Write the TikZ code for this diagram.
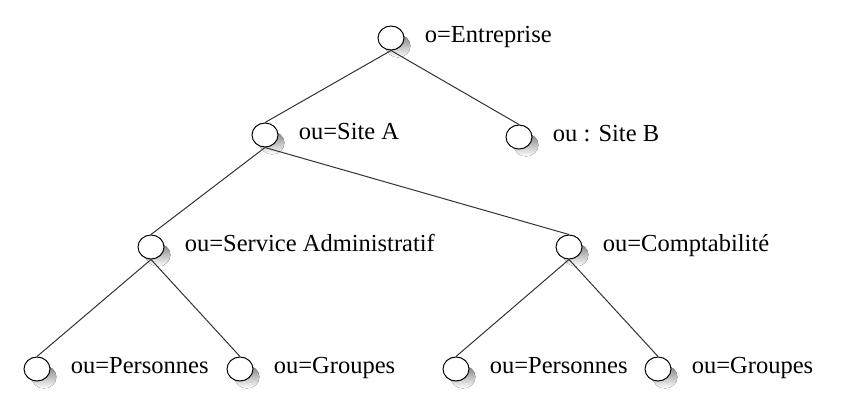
\documentclass[tikz,border=0pt]{standalone}
\usepackage{fontspec}
\setmainfont{Liberation Serif}
\usetikzlibrary{positioning,shapes.geometric}
\definecolor{shade}{RGB}{200,200,200}
\begin{document}
\begin{tikzpicture}[x=0.5pt,y=-0.5pt,
  dir/.style={ellipse,draw,fill=white,line width=0.5pt,minimum width=13pt,minimum height=12pt,inner sep=0pt},
  dn/.style={inner sep=0pt,font=\fontsize{12.25pt}{14pt}\selectfont,text height=0.68em,text depth=0.22em},
  link/.style={draw=black!80,line width=0.5pt}]
\useasboundingbox (0,0) rectangle (844,402);
% positions
\coordinate (c-ent) at (391,38);
\coordinate (c-sa) at (265,135);
\coordinate (c-sb) at (519,137);
\coordinate (c-adm) at (151,247);
\coordinate (c-cpt) at (569,247);
\coordinate (c-p1) at (37,369);
\coordinate (c-g1) at (240,369);
\coordinate (c-p2) at (456,369);
\coordinate (c-g2) at (658,369);
% shadows
\foreach \e in {ent,sa,sb,adm,cpt,p1,g1,p2,g2}
  \fill[shade] ([xshift=3.5pt,yshift=-4pt]c-\e) ellipse [x radius=6.2pt, y radius=5.7pt];
% entries
\foreach \e in {ent,sa,sb,adm,cpt,p1,g1,p2,g2}
  \node[dir] (\e) at (c-\e) {};
% names
\node[dn,right=10pt of ent] (entl) {o=Entreprise};
\node[dn,right=10pt of sa] (sal) {ou=Site A};
\node[dn,right=10pt of sb] (sbl) {ou : Site B};
\node[dn,right=10pt of adm] (adml) {ou=Service Administratif};
\node[dn,right=10pt of cpt] (cptl) {ou=Comptabilité};
\node[dn,right=10pt of p1] (p1l) {ou=Personnes};
\node[dn,right=10pt of g1] (g1l) {ou=Groupes};
\node[dn,right=10pt of p2] (p2l) {ou=Personnes};
\node[dn,right=10pt of g2] (g2l) {ou=Groupes};
% links
\draw[link] (ent.south) -- (sa.north);
\draw[link] (ent.south) -- (sb.north);
\draw[link] (sa.south) -- (adm.north);
\draw[link] (sa.south) -- (cpt.north);
\draw[link] (adm.south) -- (p1.north);
\draw[link] (adm.south) -- (g1.north);
\draw[link] (cpt.south) -- (p2.north);
\draw[link] (cpt.south) -- (g2.north);
\end{tikzpicture}
\end{document}
